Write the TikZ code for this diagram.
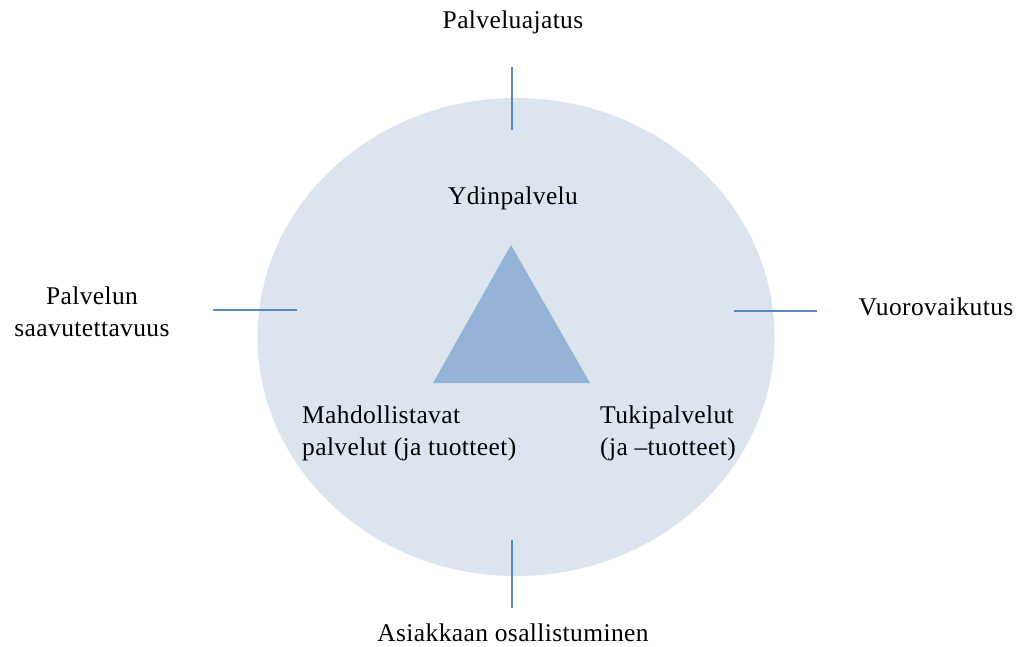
\documentclass[tikz,border=0pt]{standalone}
\usepackage{fontspec}
\setmainfont{Liberation Serif}[LetterSpace=1.5]
\definecolor{ovalfill}{HTML}{DCE4F0}
\definecolor{trifill}{HTML}{95B3D7}
\definecolor{tickline}{HTML}{5A87C0}
\begin{document}
\begin{tikzpicture}[x=1pt,y=-1pt,
  lbl/.style={font=\fontsize{25.5}{31.5}\selectfont, inner sep=0pt, align=center, text=black},
  lbll/.style={lbl, align=left, anchor=north west},
  tick/.style={draw=tickline, line width=1.3pt}]
\useasboundingbox (0,0) rectangle (1022,647);
\fill[ovalfill] (516,337) ellipse [x radius=258.5, y radius=239];
\fill[trifill] (511,245) -- (590,383) -- (433,383) -- cycle;
% ticks
\coordinate (t1) at (512,67); \coordinate (t2) at (512,130);
\coordinate (b1) at (512,540); \coordinate (b2) at (512,608);
\coordinate (l1) at (213,310); \coordinate (l2) at (297,310);
\coordinate (r1) at (734,311); \coordinate (r2) at (817,311);
\draw[tick] (t1) -- (t2);
\draw[tick] (b1) -- (b2);
\draw[tick] (l1) -- (l2);
\draw[tick] (r1) -- (r2);
% labels
\node[lbl] (top) at (513,22) {Palveluajatus};
\node[lbl] (core) at (513,198) {Ydinpalvelu};
\node[lbl] (left) at (92,312) {Palvelun\\saavutettavuus};
\node[lbl] (right) at (936,307) {Vuorovaikutus};
\node[lbll] (enab) at (302,406) {Mahdollistavat\\palvelut (ja tuotteet)};
\node[lbll] (supp) at (600,406) {Tukipalvelut\\(ja –tuotteet)};
\node[lbl] (bottom) at (513,633) {Asiakkaan osallistuminen};
\end{tikzpicture}
\end{document}
